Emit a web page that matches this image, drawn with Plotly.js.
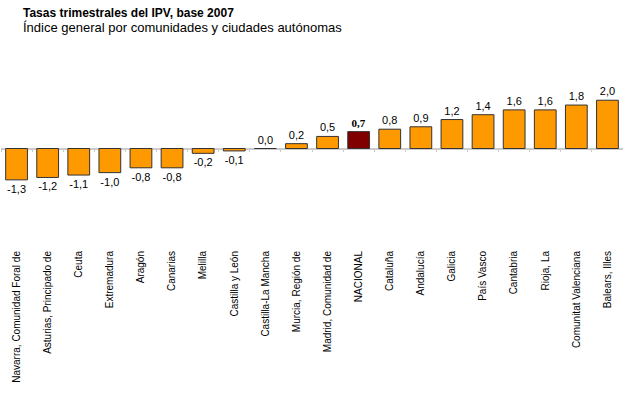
<!DOCTYPE html>
<html><head><meta charset="utf-8">
<script src="https://cdn.plot.ly/plotly-3.0.1.min.js"></script>
<style>html,body{margin:0;padding:0;background:#fff}#chart{width:623px;height:396px}</style>
</head><body><div id="chart"></div>
<script>
const categories = ["Navarra, Comunidad Foral de","Asturias, Principado de","Ceuta","Extremadura","Aragón","Canarias","Melilla","Castilla y León","Castilla-La Mancha","Murcia, Región de","Madrid, Comunidad de","NACIONAL","Cataluña","Andalucía","Galicia","País Vasco","Cantabria","Rioja, La","Comunitat Valenciana","Balears, Illes"];
const values = [-1.3,-1.2,-1.1,-1.0,-0.8,-0.8,-0.2,-0.1,0.0,0.2,0.5,0.7,0.8,0.9,1.2,1.4,1.6,1.6,1.8,2.0];
const highlight = "NACIONAL";

const colors = categories.map(c => c === highlight ? "#800000" : "#FF9900");
const templates = categories.map(c => c === highlight ? "<b>%{y:.1f}</b>" : "%{y:.1f}");
const fams = categories.map(c => c === highlight ? "Liberation Serif" : "Liberation Sans");
const bounds = categories.map((c,i)=>i-0.5).concat([categories.length-0.5]);

const trace = {
  type: "bar", x: categories, y: values,
  marker: {color: colors, line: {color: "#333333", width: 1}},
  texttemplate: templates, textposition: "outside", cliponaxis: false,
  textfont: {family: fams, size: 11, color: "#000"},
  hoverinfo: "none"
};
const tickTrace = {type:"scatter", x:[0], y:[0], xaxis:"x2", mode:"markers", marker:{opacity:0}, hoverinfo:"none", showlegend:false};

const yr = [-4.04, 3.667];
const layout = {
  width: 623, height: 396,
  margin: {l: 1, r: 0, t: 60, b: 150},
  separators: ",.",
  showlegend: false,
  bargap: 0.3,
  plot_bgcolor: "#fff", paper_bgcolor: "#fff",
  font: {family: "Liberation Sans, Arial, sans-serif", color: "#000"},
  xaxis: {type: "category", tickangle: -90, showline: false, ticks: "", showgrid: false,
          ticklabelstandoff: 2,
          tickfont: {size: 10, family: "Liberation Sans"}, automargin: false},
  xaxis2: {overlaying: "x", anchor: "free", position: 0, range: [-0.5, categories.length-0.5],
           tickmode: "array", tickvals: bounds, showticklabels: false, ticks: "outside", ticklen: 3,
           tickcolor: "#cccccc", showline: false, showgrid: false, zeroline: false},
  yaxis: {range: yr, visible: true, showticklabels: false, showgrid: false,
          zeroline: true, zerolinecolor: "#cccccc", zerolinewidth: 2, ticks: ""},
  annotations: [
    {text: "<b>Tasas trimestrales del IPV, base 2007</b>", xref: "paper", yref: "paper", x: 0, y: 0,
     xanchor: "left", yanchor: "top", showarrow: false, font: {size: 12, family: "Liberation Sans"}},
    {text: "Índice general por comunidades y ciudades autónomas", xref: "paper", yref: "paper", x: 0, y: 0,
     xanchor: "left", yanchor: "top", showarrow: false, font: {size: 13, family: "Liberation Sans"}}
  ]
};
const plotH = 396 - 60 - 150;
const plotW = 623 - 1;
layout.annotations[0].x = (21 - 1) / plotW; layout.annotations[0].y = 1 + (60 - 4) / plotH;
layout.annotations[1].x = (21 - 1) / plotW; layout.annotations[1].y = 1 + (60 - 18) / plotH;
layout.xaxis2.position = (0 - yr[0]) / (yr[1] - yr[0]);

Plotly.newPlot("chart", [trace, tickTrace], layout, {displayModeBar: false, staticPlot: true});
</script></body></html>
